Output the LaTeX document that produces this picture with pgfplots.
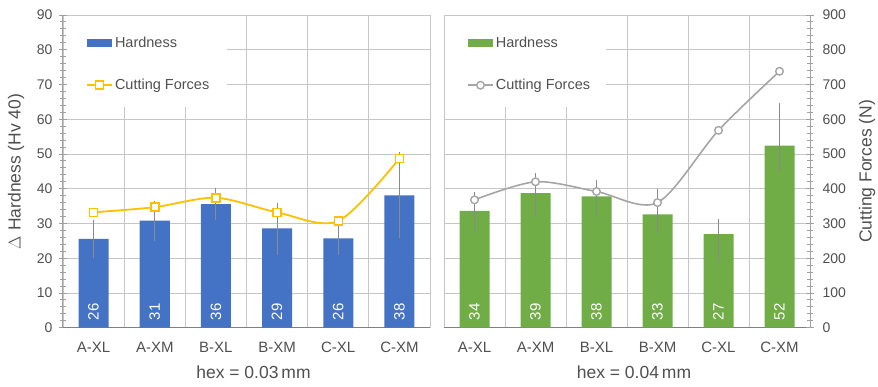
\documentclass[border=0pt]{standalone}
\usepackage{pgfplots}
\pgfplotsset{compat=1.18}
\usepackage{pgfplotstable}
\usepackage{fontspec}
\setmainfont{Liberation Sans}

\definecolor{hardblue}{HTML}{4472C4}
\definecolor{hardgreen}{HTML}{70AD47}
\definecolor{forcegold}{HTML}{FFC000}
\definecolor{forcegray}{HTML}{A5A5A5}
\definecolor{gridgray}{HTML}{C6C6C6}
\definecolor{axisgray}{HTML}{A0A0A0}
\definecolor{errgray}{HTML}{8A8A8A}
\definecolor{labelgray}{HTML}{505050}

% hardness increase (Hv 40) with upper/lower spread, cutting force (N)
\pgfplotstableread{
x h    ep   em   f
0 25.6 4.8  4.9  332
1 30.8 5.0  5.2  347
2 35.6 3.9  4.0  374
3 28.6 6.5  6.9  332
4 25.7 4.3  4.0  307
5 38.1 11.7 11.7 487
}\hexA
\pgfplotstableread{
x h    ep   em   f
0 33.6 4.8  5.5  368
1 38.7 5.1  6.1  420
2 37.8 3.9  4.9  392
3 32.6 6.6  4.5  360
4 26.9 3.7  7.2  568
5 52.4 11.5 6.8  738
}\hexB

\pgfplotsset{
  /pgf/number format/assume math mode=true,
  panel/.style={
    scale only axis, width=#1, height=312.7pt,
    xmin=-0.5, xmax=5.5,
    ticklabel style={text=labelgray, font=\fontsize{14}{16}\selectfont},
    label style={text=labelgray, font=\fontsize{17.5}{20}\selectfont},
    tick align=center,
    major tick length=8pt, minor tick length=6pt,
    major tick style={axisgray, line width=0.9pt},
    minor tick style={axisgray, line width=0.9pt},
  },
  hardness/.style={
    ymin=0, ymax=90, ytick={0,10,...,90},
    xtick={0,...,5}, xticklabels={A-XL,A-XM,B-XL,B-XM,C-XL,C-XM},
    minor xtick={-0.5,0.5,...,5.5},
    xminorgrids=true, ymajorgrids=true,
    grid style={gridgray, line width=0.9pt},
    minor grid style={gridgray, line width=0.9pt},
    axis x line*=bottom, axis y line*=left,
    axis line style={-},
    x axis line style={draw=gray, line width=1.1pt},
    major x tick style={draw=none}, minor x tick style={draw=none},
    xticklabel style={yshift=-7pt, font=\fontsize{15}{17}\selectfont},
    xlabel style={at={(rel axis cs:0.5,0)}, anchor=center, yshift=-45pt, xshift=7pt},
    legend cell align=left,
    legend style={at={(rel axis cs:0,1)}, anchor=north west, xshift=23pt, yshift=-20pt,
      draw=none, fill=none, text=labelgray, font=\fontsize{14.5}{17}\selectfont,
      row sep=26pt, inner sep=0pt, nodes={inner sep=2pt}},
  },
  bars/.style={
    ybar, bar width=30pt, fill=#1, draw=none,
    legend image code/.code={\fill[##1] (0pt,-4pt) rectangle (25pt,4pt);},
    error bars/.cd, y dir=both, y explicit,
    error bar style={errgray, line width=1pt},
    error mark options={errgray, line width=1pt, mark size=2.5pt},
  },
  barlabels/.style={
    draw=none, forget plot, point meta=explicit,
    nodes near coords={\pgfmathprintnumber[fixed,precision=0]{\pgfplotspointmeta}},
    every node near coord/.append style={rotate=90, anchor=west, text=white,
      font=\fontsize{15}{17}\selectfont, inner xsep=7.5pt, inner ysep=0pt},
  },
  lineimage/.style={
    legend image code/.code={\draw[mark repeat=2, mark phase=2, ##1]
      plot coordinates {(0pt,0pt) (12.5pt,0pt) (25pt,0pt)};},
  },
  goldline/.style={forcegold, line width=1.8pt, smooth, mark=square*, mark size=4pt,
    mark options={fill=white, line width=1.5pt}},
  grayline/.style={forcegray, line width=1.6pt, smooth, mark=*, mark size=3.8pt,
    mark options={fill=white, line width=1.4pt}},
}

\begin{document}
\begin{tikzpicture}
\path[use as bounding box] (-63pt,-58.3pt) rectangle (815pt,327.7pt);

% ---------- hex = 0.03 mm ----------
\begin{axis}[at={(0pt,0pt)}, anchor=south west, panel=367pt, hardness,
  minor y tick num=4,
  y axis line style={axisgray, line width=1pt},
  yticklabel style={anchor=east, xshift=-3pt},
  ylabel={$\Delta$ Hardness (Hv 40)},
  ylabel style={at={(rel axis cs:0,0.5)}, anchor=center, yshift=47pt},
  xlabel={hex = 0.03\,mm}]
\fill[white] ([xshift=3.6pt,yshift=-0.6pt]rel axis cs:0,1) rectangle ([xshift=164pt,yshift=-92pt]rel axis cs:0,1);
\addplot[bars=hardblue] table[x=x, y=h, y error plus=ep, y error minus=em] {\hexA};
\addlegendentry{Hardness}
\addlegendimage{goldline, lineimage}
\addlegendentry{Cutting Forces}
\addplot[barlabels] table[x=x, y expr=0, meta=h] {\hexA};
\end{axis}
\begin{axis}[at={(0pt,0pt)}, anchor=south west, panel=367pt, ymin=0, ymax=900, hide axis]
\addplot[goldline] table[x=x, y=f] {\hexA};
\end{axis}

% ---------- hex = 0.04 mm ----------
\begin{axis}[at={(381pt,0pt)}, anchor=south west, panel=366pt, hardness,
  minor y tick num=0,
  y axis line style={draw=none}, major y tick style={draw=none},
  yticklabels={},
  xlabel={hex = 0.04\,mm}]
\fill[white] ([xshift=0.6pt,yshift=-0.6pt]rel axis cs:0,1) rectangle ([xshift=162pt,yshift=-92pt]rel axis cs:0,1);
\addplot[bars=hardgreen] table[x=x, y=h, y error plus=ep, y error minus=em] {\hexB};
\addlegendentry{Hardness}
\addlegendimage{grayline, lineimage}
\addlegendentry{Cutting Forces}
\addplot[barlabels] table[x=x, y expr=0, meta=h] {\hexB};
\end{axis}
\begin{axis}[at={(381pt,0pt)}, anchor=south west, panel=366pt, ymin=0, ymax=900,
  axis x line=none, axis y line*=right, axis line style={-},
  y axis line style={axisgray, line width=1pt},
  ytick={0,100,...,900}, minor y tick num=4,
  yticklabel style={anchor=west, xshift=5pt},
  ylabel={Cutting Forces (N)},
  ylabel style={at={(rel axis cs:1,0.5)}, anchor=center, yshift=-57pt}]
\addplot[grayline] table[x=x, y=f] {\hexB};
\end{axis}
\end{tikzpicture}
\end{document}
